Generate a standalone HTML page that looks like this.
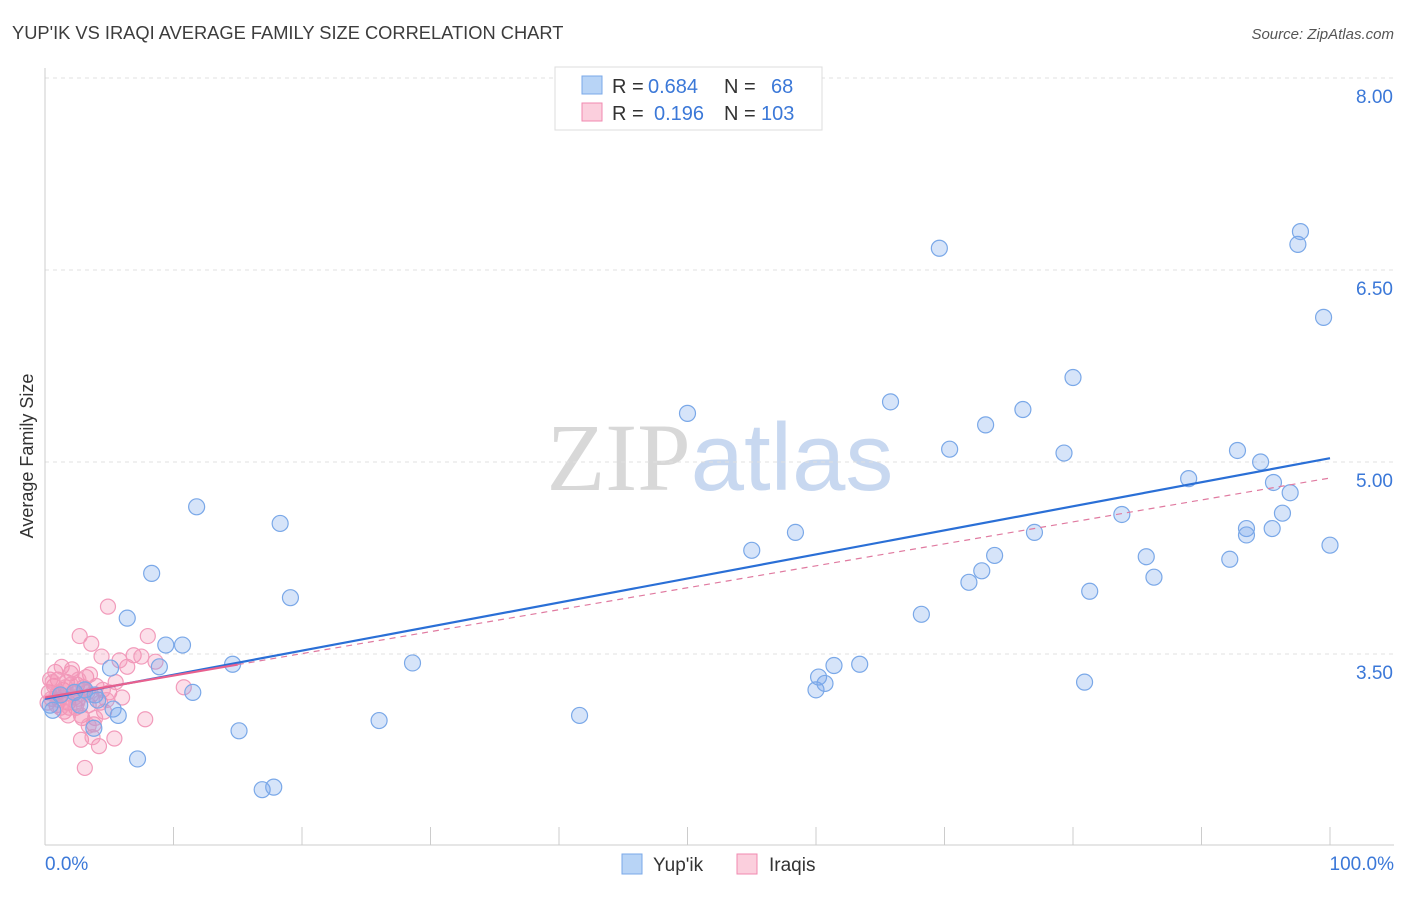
<!DOCTYPE html>
<html><head><meta charset="utf-8"><style>
body{margin:0;background:#fff;font-family:"Liberation Sans",sans-serif;}
svg text{font-family:"Liberation Sans",sans-serif;}
</style></head><body>
<svg id="chart" width="1406" height="892" xmlns="http://www.w3.org/2000/svg">
<text x="12" y="39" font-size="18.3" fill="#3c3c3c">YUP'IK VS IRAQI AVERAGE FAMILY SIZE CORRELATION CHART</text>
<text x="1394" y="39" font-size="15" fill="#555" font-style="italic" text-anchor="end">Source: ZipAtlas.com</text>
<text x="720" y="490" font-size="96" text-anchor="middle"><tspan fill="#d8d8d8" font-family="Liberation Serif">ZIP</tspan><tspan fill="#c8d8f0">atlas</tspan></text>
<text transform="translate(33,456) rotate(-90)" font-size="18" fill="#333" text-anchor="middle">Average Family Size</text>
<g id="grid"></g><g id="axes"></g><g id="marks"></g>
<g font-size="20">
<rect x="555" y="67" width="267" height="63" fill="#fff" stroke="#ddd"/>
<rect x="582" y="76" width="20" height="18" fill="#b8d4f6" stroke="#7aa8e8"/>
<text x="612" y="93" fill="#333">R =</text>
<text x="648" y="93" fill="#3b78d8">0.684</text>
<text x="724" y="93" fill="#333">N =</text>
<text x="771" y="93" fill="#3b78d8">68</text>
<rect x="582" y="103" width="20" height="18" fill="#fbcfdd" stroke="#f08ab0"/>
<text x="612" y="120" fill="#333">R =</text>
<text x="654" y="120" fill="#3b78d8">0.196</text>
<text x="724" y="120" fill="#333">N =</text>
<text x="761" y="120" fill="#3b78d8">103</text>
</g>
<g>
<rect x="622" y="854" width="20" height="20" fill="#b8d4f6" stroke="#7aa8e8"/>
<text x="653" y="871" font-size="19" fill="#333">Yup'ik</text>
<rect x="737" y="854" width="20" height="20" fill="#fbcfdd" stroke="#f08ab0"/>
<text x="769" y="871" font-size="19" fill="#333">Iraqis</text>
</g>
</svg>
<script>
const yTicks=[3.5,5.0,6.5,8.0];
const yTickLabels=["3.50","5.00","6.50","8.00"];
const xLabels=["0.0%","100.0%"];
const blueX=[11.8,8.3,6.4,18.3,19.1,9.4,10.7,8.9,14.6,11.5,5.1,5.3,5.7,3.8,7.2,15.1,16.9,17.8,26.0,28.6,41.6,50.0,55.0,58.4,60.0,60.2,60.7,61.4,63.4,65.8,68.2,69.6,70.4,71.9,72.9,73.2,73.9,76.1,77.0,79.3,80.0,80.9,81.3,83.8,85.7,86.3,89.0,92.2,92.8,93.5,93.5,94.6,95.5,95.6,96.3,96.9,97.5,97.7,99.5,100.0,0.4,1.2,2.3,3.1,3.9,0.6,4.1,2.7];
const blueY=[4.65,4.13,3.78,4.52,3.94,3.57,3.57,3.40,3.42,3.20,3.39,3.07,3.02,2.92,2.68,2.90,2.44,2.46,2.98,3.43,3.02,5.38,4.31,4.45,3.22,3.32,3.27,3.41,3.42,5.47,3.81,6.67,5.10,4.06,4.15,5.29,4.27,5.41,4.45,5.07,5.66,3.28,3.99,4.59,4.26,4.10,4.87,4.24,5.09,4.48,4.43,5.00,4.48,4.84,4.60,4.76,6.70,6.80,6.13,4.35,3.10,3.18,3.20,3.22,3.18,3.06,3.14,3.10];
const pinkX=[4.9,2.7,3.6,8.0,4.4,6.9,7.5,8.6,6.4,5.8,10.8,7.8,5.4,4.2,3.1,2.8,3.7,0.3,0.5,0.7,0.9,1.0,1.2,1.4,1.5,1.7,1.8,2.0,2.2,2.4,2.5,2.6,2.9,3.0,3.2,3.4,3.6,3.8,4.0,4.3,4.6,5.0,5.5,6.0,0.4,0.8,1.1,1.3,1.6,1.9,2.1,2.3,2.8,3.3,3.5,3.9,4.5,0.2,0.6,1.0,1.5,2.0,2.5,3.0,1.2,1.8,2.6,0.9,3.4,4.8];
const pinkY=[3.87,3.64,3.58,3.64,3.48,3.49,3.48,3.44,3.40,3.45,3.24,2.99,2.84,2.78,2.61,2.83,2.85,3.20,3.15,3.25,3.10,3.30,3.18,3.22,3.05,3.28,3.12,3.35,3.20,3.08,3.26,3.15,3.00,3.22,3.32,3.10,3.18,2.95,3.25,3.12,3.05,3.20,3.28,3.16,3.30,3.36,3.14,3.40,3.24,3.08,3.38,3.16,3.02,3.20,3.34,3.00,3.22,3.12,3.28,3.20,3.16,3.26,3.12,3.24,3.08,3.02,3.30,3.18,2.94,3.14];
const blueTrend=[3.15,5.03];
const pinkTrend=[3.16,4.875];
const pinkSolidEnd=15;
const ns="http://www.w3.org/2000/svg";
const X=v=>45+v*12.85, Y=v=>462-(v-5)*128;
function mk(tag,attrs,parent){const e=document.createElementNS(ns,tag);for(const k in attrs)e.setAttribute(k,attrs[k]);document.getElementById(parent).appendChild(e);return e;}
yTicks.forEach((t,i)=>{
 const g=mk('line',{x1:45,x2:1394,y1:Y(t),y2:Y(t),stroke:'#e0e0e0','stroke-dasharray':'4,4'},'grid');
 
 
 const l=mk('text',{x:1393,y:Y(t)+25,'font-size':19,fill:'#3b78d8','text-anchor':'end'},'axes');
 l.textContent=yTickLabels[i];
 
 
});
const ya=mk('line',{x1:45,x2:45,y1:68,y2:845,stroke:'#ccc'},'axes');


const xa=mk('line',{x1:45,x2:1394,y1:845,y2:845,stroke:'#ccc'},'axes');


for(let i=0;i<=10;i++){const t=mk('line',{x1:X(i*10),x2:X(i*10),y1:827,y2:845,stroke:'#ccc'},'axes');
 
 }
[[0,'start',45],[100,'end',1394]].forEach((d,i)=>{const l=mk('text',{x:d[2],y:870,'font-size':19,fill:'#3b78d8','text-anchor':d[1]},'axes');l.textContent=xLabels[i];
 
 });
pinkX.forEach((x,i)=>{const c=mk('circle',{cx:X(x),cy:Y(pinkY[i]),r:7.5,fill:'rgba(245,140,175,0.28)',stroke:'#f29bbb','stroke-width':1.2},'marks');
 
 });
blueX.forEach((x,i)=>{const c=mk('circle',{cx:X(x),cy:Y(blueY[i]),r:8,fill:'rgba(120,165,235,0.3)',stroke:'#7aa8e8','stroke-width':1.2},'marks');
 
 });
const pyEnd=pinkTrend[0]+(pinkTrend[1]-pinkTrend[0])*pinkSolidEnd/100;
const pd=mk('line',{x1:X(pinkSolidEnd),y1:Y(pyEnd),x2:X(100),y2:Y(pinkTrend[1]),stroke:'#e07aa0','stroke-width':1.2,'stroke-dasharray':'6,5'},'marks');


const bl=mk('line',{x1:X(0),y1:Y(blueTrend[0]),x2:X(100),y2:Y(blueTrend[1]),stroke:'#2a6fd6','stroke-width':2.2},'marks');


const ps=mk('line',{x1:X(0),y1:Y(pinkTrend[0]),x2:X(pinkSolidEnd),y2:Y(pyEnd),stroke:'#e8608e','stroke-width':2.2},'marks');


</script>
</body></html>
